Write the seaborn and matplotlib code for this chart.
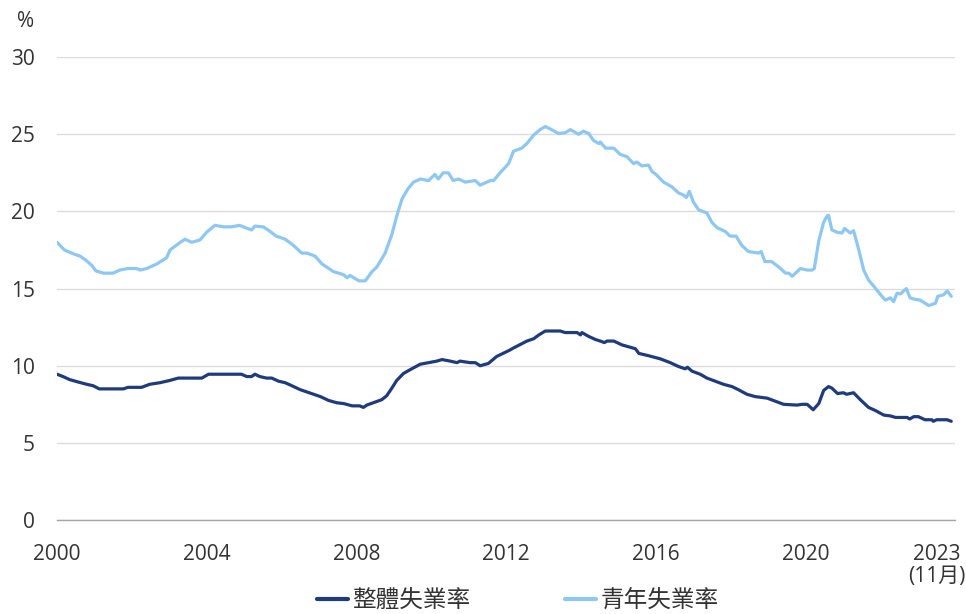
import pandas as pd
import matplotlib.pyplot as plt
import matplotlib.transforms as mtransforms
import seaborn as sns

# Overall unemployment rate (decimal years, %)
overall_t = [2000.0, 2000.16, 2000.34, 2000.56, 2000.79, 2000.97, 2001.13, 2001.77, 2001.9, 2002.26,
             2002.48, 2002.75, 2003.02, 2003.24, 2003.87, 2004.05, 2004.93, 2005.07, 2005.2, 2005.29,
             2005.42, 2005.6, 2005.74, 2005.92, 2006.1, 2006.28, 2006.5, 2006.68, 2006.86, 2007.04,
             2007.26, 2007.48, 2007.66, 2007.89, 2008.09, 2008.19, 2008.28, 2008.45, 2008.68, 2008.81,
             2008.95, 2009.08, 2009.26, 2009.48, 2009.71, 2009.93, 2010.15, 2010.29, 2010.51, 2010.69,
             2010.77, 2011.04, 2011.18, 2011.31, 2011.53, 2011.75, 2012.09, 2012.2, 2012.56, 2012.74,
             2012.88, 2013.05, 2013.45, 2013.58, 2013.9, 2013.99, 2014.03, 2014.21, 2014.39, 2014.52,
             2014.63, 2014.7, 2014.88, 2015.1, 2015.32, 2015.46, 2015.55, 2015.81, 2016.12, 2016.39,
             2016.61, 2016.79, 2016.85, 2016.97, 2017.19, 2017.37, 2017.59, 2017.81, 2018.04, 2018.21,
             2018.44, 2018.66, 2018.98, 2019.2, 2019.42, 2019.78, 2019.91, 2020.05, 2020.21, 2020.36,
             2020.49, 2020.62, 2020.71, 2020.86, 2021.02, 2021.1, 2021.29, 2021.47, 2021.69, 2021.87,
             2022.1, 2022.27, 2022.41, 2022.72, 2022.79, 2022.9, 2023.02, 2023.2, 2023.38, 2023.42,
             2023.51, 2023.79, 2023.9]
overall_v = [9.45, 9.3, 9.1, 8.95, 8.8, 8.7, 8.5, 8.5, 8.6, 8.6,
             8.8, 8.9, 9.05, 9.2, 9.2, 9.45, 9.45, 9.3, 9.3, 9.45,
             9.3, 9.2, 9.2, 9.0, 8.9, 8.7, 8.45, 8.3, 8.15, 8.0,
             7.75, 7.6, 7.55, 7.4, 7.4, 7.3, 7.45, 7.6, 7.8, 8.05,
             8.55, 9.05, 9.5, 9.8, 10.1, 10.2, 10.3, 10.4, 10.3, 10.2,
             10.3, 10.2, 10.2, 10.0, 10.15, 10.6, 11.0, 11.15, 11.6, 11.75,
             12.0, 12.25, 12.25, 12.15, 12.15, 12.0, 12.15, 11.9, 11.7, 11.6,
             11.5, 11.6, 11.6, 11.35, 11.2, 11.1, 10.8, 10.65, 10.45, 10.2,
             9.95, 9.8, 9.9, 9.65, 9.45, 9.2, 9.0, 8.8, 8.65, 8.45,
             8.15, 8.0, 7.9, 7.7, 7.5, 7.45, 7.5, 7.5, 7.15, 7.55,
             8.4, 8.65, 8.55, 8.2, 8.25, 8.15, 8.25, 7.8, 7.3, 7.1,
             6.8, 6.75, 6.65, 6.65, 6.55, 6.7, 6.7, 6.5, 6.5, 6.4,
             6.5, 6.5, 6.4]

# Youth unemployment rate
youth_t = [2000.0, 2000.2, 2000.44, 2000.62, 2000.79, 2000.93, 2001.04, 2001.24, 2001.5, 2001.68,
           2001.9, 2002.13, 2002.22, 2002.4, 2002.67, 2002.93, 2003.02, 2003.24, 2003.42, 2003.6,
           2003.82, 2004.0, 2004.22, 2004.45, 2004.67, 2004.88, 2005.03, 2005.2, 2005.29, 2005.51,
           2005.64, 2005.86, 2006.1, 2006.32, 2006.54, 2006.68, 2006.9, 2007.08, 2007.39, 2007.66,
           2007.75, 2007.83, 2008.07, 2008.24, 2008.42, 2008.55, 2008.77, 2008.95, 2009.08, 2009.22,
           2009.39, 2009.53, 2009.71, 2009.93, 2010.1, 2010.19, 2010.32, 2010.46, 2010.59, 2010.73,
           2010.91, 2011.18, 2011.31, 2011.58, 2011.67, 2011.84, 2012.07, 2012.2, 2012.42, 2012.56,
           2012.74, 2012.91, 2013.05, 2013.22, 2013.4, 2013.58, 2013.72, 2013.94, 2014.07, 2014.21,
           2014.34, 2014.48, 2014.52, 2014.66, 2014.88, 2015.05, 2015.23, 2015.41, 2015.5, 2015.63,
           2015.81, 2015.9, 2016.03, 2016.21, 2016.43, 2016.61, 2016.75, 2016.82, 2016.9, 2017.01,
           2017.15, 2017.37, 2017.5, 2017.64, 2017.86, 2017.99, 2018.15, 2018.3, 2018.48, 2018.75,
           2018.82, 2018.92, 2019.1, 2019.29, 2019.47, 2019.56, 2019.65, 2019.87, 2020.05, 2020.18,
           2020.24, 2020.36, 2020.49, 2020.58, 2020.62, 2020.71, 2020.85, 2020.98, 2021.05, 2021.2,
           2021.29, 2021.43, 2021.56, 2021.69, 2021.83, 2022.01, 2022.14, 2022.27, 2022.36, 2022.45,
           2022.54, 2022.7, 2022.8, 2022.94, 2023.07, 2023.3, 2023.48, 2023.54, 2023.7, 2023.79,
           2023.9]
youth_v = [18.0, 17.5, 17.25, 17.1, 16.8, 16.5, 16.15, 16.0, 16.0, 16.2,
           16.3, 16.3, 16.2, 16.3, 16.6, 17.0, 17.5, 17.9, 18.2, 18.0,
           18.15, 18.65, 19.1, 19.0, 19.0, 19.1, 18.95, 18.8, 19.05, 19.0,
           18.8, 18.4, 18.2, 17.8, 17.3, 17.3, 17.1, 16.6, 16.1, 15.9,
           15.7, 15.85, 15.5, 15.5, 16.1, 16.4, 17.3, 18.5, 19.7, 20.8,
           21.5, 21.9, 22.1, 22.0, 22.4, 22.1, 22.5, 22.5, 22.0, 22.1,
           21.9, 22.0, 21.7, 22.0, 22.0, 22.5, 23.1, 23.9, 24.1, 24.4,
           24.95, 25.3, 25.5, 25.3, 25.05, 25.1, 25.3, 25.0, 25.2, 25.05,
           24.6, 24.4, 24.5, 24.1, 24.1, 23.7, 23.55, 23.1, 23.2, 22.95,
           23.0, 22.6, 22.35, 21.9, 21.6, 21.2, 21.05, 20.9, 21.3, 20.6,
           20.1, 19.9, 19.3, 18.95, 18.7, 18.4, 18.4, 17.8, 17.4, 17.3,
           17.4, 16.75, 16.75, 16.4, 16.0, 16.0, 15.8, 16.3, 16.2, 16.2,
           16.3, 18.1, 19.3, 19.7, 19.75, 18.8, 18.65, 18.6, 18.9, 18.6,
           18.75, 17.5, 16.2, 15.55, 15.15, 14.6, 14.25, 14.4, 14.15, 14.7,
           14.65, 15.0, 14.4, 14.3, 14.25, 13.9, 14.05, 14.5, 14.6, 14.85,
           14.5]

series_names = ['整體失業率', '青年失業率']
series_colors = ['#1f3b7b', '#8dc7f2']
y_ticks = [0, 5, 10, 15, 20, 25, 30]
x_major = [2000, 2004, 2008, 2012, 2016, 2020, 2024]
x_major_labels = ['2000', '2004', '2008', '2012', '2016', '2020', '2023\n(11月)']
x_minor = [2002, 2006, 2010, 2014, 2018, 2022]

df = pd.concat([
    pd.DataFrame({'year': overall_t, 'rate': overall_v, 'series': series_names[0]}),
    pd.DataFrame({'year': youth_t, 'rate': youth_v, 'series': series_names[1]}),
])

sns.set_style('white')
plt.rcParams['font.family'] = ['Open Sans', 'Noto Sans CJK TC', 'DejaVu Sans']
plt.rcParams['text.color'] = '#333333'

fig = plt.figure(figsize=(9.66, 6.14), dpi=100)
ax = fig.add_axes([0.059, 0.153, 0.9296, 0.754])

sns.lineplot(data=df, x='year', y='rate', hue='series', palette=series_colors,
             estimator=None, linewidth=2.3, ax=ax)

ax.set_xlim(2000, 2024)
ax.set_ylim(0, 30)
ax.set_yticks(y_ticks)
ax.set_yticklabels([str(v) for v in y_ticks])
ax.yaxis.grid(True, color='#dcdcdc', linewidth=1)
ax.set_axisbelow(True)
ax.tick_params(axis='y', length=0, pad=16, labelsize=15, labelcolor='#333333')

ax.set_xticks(x_major)
ax.set_xticklabels(x_major_labels)
ax.set_xticks(x_minor, minor=True)
ax.tick_params(axis='x', which='major', direction='inout', length=12, width=1,
               color='#a6a6a6', pad=11, labelsize=15, labelcolor='#333333')
ax.tick_params(axis='x', which='minor', direction='out', length=5, width=1, color='#a6a6a6')
# shift last label left so it stays inside the figure
last = ax.get_xticklabels()[-1]
last.set_transform(last.get_transform() + mtransforms.ScaledTranslation(-18 / 100, 0, fig.dpi_scale_trans))
last.set_linespacing(1.1)

for s in ['top', 'right', 'left']:
    ax.spines[s].set_visible(False)
ax.spines['bottom'].set_color('#a6a6a6')
ax.spines['bottom'].set_linewidth(1)

ax.set_xlabel('')
ax.set_ylabel('')
fig.text(0.018, 0.965, '%', fontsize=15, color='#333333', va='center')

leg = ax.legend(loc='center', bbox_to_anchor=(0.513, -0.176), ncol=2, frameon=False,
                fontsize=17, handlelength=1.3, handletextpad=0.2, columnspacing=4.0)
for line in leg.get_lines():
    line.set_linewidth(3)

fig.savefig('out.png', dpi=100)
